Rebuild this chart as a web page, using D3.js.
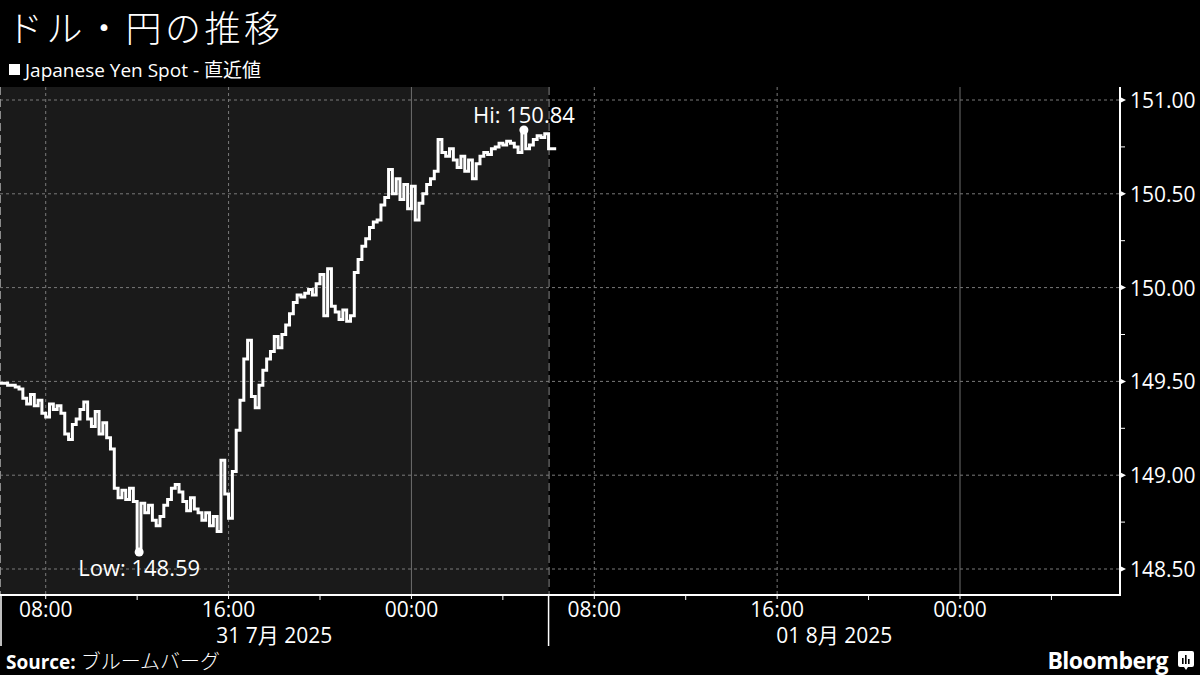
<!DOCTYPE html>
<html><head><meta charset="utf-8">
<script src="https://cdn.jsdelivr.net/npm/d3@7"></script>
<style>
html,body{margin:0;padding:0;background:#000;}
svg{display:block;}
</style></head>
<body>
<svg id="chart" width="1200" height="675"></svg>
<script>
// ---- data ----
const title = "ドル・円の推移";
const legendLabel = "Japanese Yen Spot - 直近値";
const sourceLabel = "ブルームバーグ";
const seriesStart = new Date(2025, 6, 31, 6, 0);  // 10-minute steps from here
const stepMinutes = 10;
const yenValues = [
  149.49,149.49,149.48,149.48,149.47,149.46,149.41,149.38,149.43,149.37,
  149.40,149.33,149.31,149.38,149.35,149.37,149.33,149.22,149.19,149.27,
  149.30,149.35,149.39,149.30,149.26,149.34,149.22,149.28,149.20,149.14,
  148.93,148.88,148.92,148.87,148.93,148.86,148.59,148.85,148.80,148.84,
  148.76,148.73,148.78,148.84,148.87,148.93,148.95,148.91,148.86,148.81,
  148.88,148.82,148.80,148.76,148.80,148.73,148.78,148.70,149.08,148.90,
  148.77,149.02,149.24,149.40,149.62,149.72,149.42,149.36,149.48,149.56,
  149.62,149.66,149.74,149.68,149.75,149.80,149.86,149.92,149.96,149.95,
  149.97,149.99,149.96,150.02,150.07,149.85,150.10,149.90,149.87,149.83,
  149.88,149.82,149.85,150.08,150.15,150.22,150.26,150.32,150.35,150.36,
  150.44,150.48,150.63,150.50,150.58,150.47,150.55,150.42,150.54,150.36,
  150.45,150.50,150.55,150.58,150.62,150.79,150.72,150.70,150.74,150.68,
  150.64,150.70,150.62,150.68,150.58,150.66,150.70,150.72,150.71,150.74,
  150.75,150.77,150.76,150.78,150.77,150.75,150.72,150.84,150.74,150.76,
  150.79,150.81,150.80,150.82,150.74,150.74,150.74
];
const yTicks = [148.5, 149.0, 149.5, 150.0, 150.5, 151.0];
const yMinorTicks = [148.75, 149.25, 149.75, 150.25, 150.75];
const xDomain = [new Date(2025, 6, 31, 6, 0), new Date(2025, 7, 2, 7, 0)];
const dayLabels = [
  {start: new Date(2025, 6, 31, 6, 0), end: new Date(2025, 7, 1, 6, 0), text: "31 7月 2025"},
  {start: new Date(2025, 7, 1, 6, 0), end: new Date(2025, 7, 2, 7, 0), text: "01 8月 2025"}
];
const nowTime = new Date(2025, 7, 1, 6, 0);

const data = yenValues.map((v, i) => ({t: new Date(seriesStart.getTime() + i * stepMinutes * 60000), v}));

// ---- layout ----
const svg = d3.select("#chart");
const plot = {left: 0, right: 1120, top: 87, bottom: 595};
const pxPerYen = 187.6;
const x = d3.scaleTime().domain(xDomain).range([plot.left, plot.right]);
const y = d3.scaleLinear()
  .domain([151 - (plot.bottom - 100) / pxPerYen, 151 + (100 - plot.top) / pxPerYen])
  .range([plot.bottom, plot.top]);
const font = "'Open Sans', 'Noto Sans CJK JP', sans-serif";
const cjk = "'Noto Sans CJK JP', sans-serif";

svg.append("rect").attr("width", 1200).attr("height", 675).attr("fill", "#000");

// shaded past region
svg.append("rect")
  .attr("x", x(xDomain[0])).attr("y", plot.top)
  .attr("width", x(nowTime) - x(xDomain[0])).attr("height", plot.bottom - plot.top)
  .attr("fill", "#1a1a1a");

// horizontal grid
svg.append("g").selectAll("line").data(yTicks).join("line")
  .attr("x1", plot.left).attr("x2", plot.right)
  .attr("y1", d => y(d)).attr("y2", d => y(d))
  .attr("stroke", "#7a7a7a").attr("stroke-width", 1).attr("stroke-dasharray", "3,3");

// vertical grid
const hourTicks = d3.timeHour.every(4).range(xDomain[0], xDomain[1]);
const majorTicks = hourTicks.filter(d => d.getHours() % 8 === 0);
svg.append("g").selectAll("line").data(majorTicks).join("line")
  .attr("x1", d => x(d)).attr("x2", d => x(d))
  .attr("y1", plot.top).attr("y2", plot.bottom)
  .attr("stroke", d => d.getHours() === 0 ? "#6e6e6e" : "#7a7a7a")
  .attr("stroke-width", 1)
  .attr("stroke-dasharray", d => d.getHours() === 0 ? null : "3,3");

// start and "now" dashed lines
svg.append("g").selectAll("line").data([xDomain[0], nowTime]).join("line")
  .attr("x1", d => x(d) + 0.5).attr("x2", d => x(d) + 0.5)
  .attr("y1", plot.top).attr("y2", plot.bottom)
  .attr("stroke", "#8a8a8a").attr("stroke-width", 1).attr("stroke-dasharray", "8,4");

// series line
const line = d3.line().x(d => x(d.t)).y(d => y(d.v)).curve(d3.curveStepAfter);
svg.append("path").datum(data)
  .attr("d", line).attr("fill", "none")
  .attr("stroke", "#fff").attr("stroke-width", 3).attr("stroke-linejoin", "miter");

// hi / low markers
const lo = data[d3.minIndex(data, d => d.v)];
const hi = data[d3.maxIndex(data, d => d.v)];
svg.append("circle").attr("cx", x(lo.t) + 2).attr("cy", y(lo.v)).attr("r", 4.5).attr("fill", "#fff");
svg.append("circle").attr("cx", x(hi.t) + 2).attr("cy", y(hi.v)).attr("r", 4.5).attr("fill", "#fff");
svg.append("text").attr("x", x(lo.t) + 2).attr("y", y(lo.v) + 24)
  .attr("text-anchor", "middle").attr("fill", "#fff")
  .style("font-family", font).style("font-size", "22px")
  .text("Low: " + d3.format(".2f")(lo.v));
svg.append("text").attr("x", x(hi.t) + 2).attr("y", y(hi.v) - 7)
  .attr("text-anchor", "middle").attr("fill", "#fff")
  .style("font-family", font).style("font-size", "22px")
  .text("Hi: " + d3.format(".2f")(hi.v));

// right axis
svg.append("line").attr("x1", plot.right).attr("x2", plot.right)
  .attr("y1", plot.top).attr("y2", plot.bottom + 1)
  .attr("stroke", "#fff").attr("stroke-width", 2);
svg.append("g").selectAll("path").data(yTicks).join("path")
  .attr("d", d => `M${plot.right},${y(d) - 3}L${plot.right + 6},${y(d)}L${plot.right},${y(d) + 3}Z`)
  .attr("fill", "#fff");
svg.append("g").selectAll("line").data(yMinorTicks).join("line")
  .attr("x1", plot.right).attr("x2", plot.right + 5)
  .attr("y1", d => y(d)).attr("y2", d => y(d))
  .attr("stroke", "#fff").attr("stroke-width", 1);
svg.append("g").selectAll("text").data(yTicks).join("text")
  .attr("x", plot.right + 10).attr("y", d => y(d) + 8)
  .attr("fill", "#fff")
  .style("font-family", font).style("font-size", "21px")
  .text(d => d3.format(".2f")(d));

// bottom axis
svg.append("line").attr("x1", 0).attr("x2", plot.right + 1)
  .attr("y1", plot.bottom).attr("y2", plot.bottom)
  .attr("stroke", "#fff").attr("stroke-width", 2);
svg.append("g").selectAll("line").data(hourTicks).join("line")
  .attr("x1", d => x(d)).attr("x2", d => x(d))
  .attr("y1", plot.bottom).attr("y2", d => plot.bottom + (d.getHours() % 8 === 0 ? 4 : 5))
  .attr("stroke", "#fff").attr("stroke-width", 1);
svg.append("g").selectAll("text").data(majorTicks).join("text")
  .attr("x", d => x(d)).attr("y", plot.bottom + 22)
  .attr("text-anchor", "middle").attr("fill", "#fff")
  .style("font-family", font).style("font-size", "21px")
  .text(d3.timeFormat("%H:%M"));

// day separators and labels
svg.append("g").selectAll("line").data([xDomain[0], nowTime]).join("line")
  .attr("x1", d => Math.max(1, x(d))).attr("x2", d => Math.max(1, x(d)))
  .attr("y1", plot.bottom).attr("y2", 646)
  .attr("stroke", "#fff").attr("stroke-width", 1.5);
svg.append("g").selectAll("text").data(dayLabels).join("text")
  .attr("x", d => (x(d.start) + x(d.end)) / 2).attr("y", 643)
  .attr("text-anchor", "middle").attr("fill", "#fff")
  .style("font-family", font).style("font-size", "21px")
  .text(d => d.text);

// title & legend
svg.append("text").attr("x", 7).attr("y", 42)
  .attr("fill", "#fff")
  .style("font-family", cjk).style("font-weight", 300).style("font-size", "36px")
  .style("letter-spacing", "3.5px")
  .text(title);
svg.append("rect").attr("x", 9).attr("y", 64).attr("width", 11).attr("height", 11).attr("fill", "#fff");
svg.append("text").attr("x", 25).attr("y", 77)
  .attr("fill", "#fff")
  .style("font-family", font).style("font-size", "19px")
  .text(legendLabel);

// source
const src = svg.append("text").attr("x", 6).attr("y", 669).attr("fill", "#fff")
  .style("font-family", font).style("font-size", "19px");
src.append("tspan").style("font-weight", 700).text("Source: ");
src.append("tspan").style("font-family", cjk).style("font-weight", 300).style("font-size", "20px").text(sourceLabel);

// Bloomberg logo
svg.append("text").attr("x", 1168).attr("y", 669).attr("text-anchor", "end")
  .attr("fill", "#fff")
  .style("font-family", font).style("font-weight", 700).style("font-size", "23px").style("letter-spacing", "-0.5px")
  .text("Bloomberg");
const logo = svg.append("g").attr("transform", "translate(1178,651)");
logo.append("path").attr("d", "M0,2Q0,0 2,0L14,0Q16,0 16,2L16,14Q16,16 14,16L10,16L8,19L6,16L2,16Q0,16 0,14Z").attr("fill", "#fff");
logo.append("g").selectAll("rect").data([[4,7,1.6,6],[7,4,1.6,9],[10,8,1.6,5]]).join("rect")
  .attr("x", d => d[0]).attr("y", d => d[1]).attr("width", d => d[2]).attr("height", d => d[3]).attr("fill", "#000");
</script>
</body></html>
